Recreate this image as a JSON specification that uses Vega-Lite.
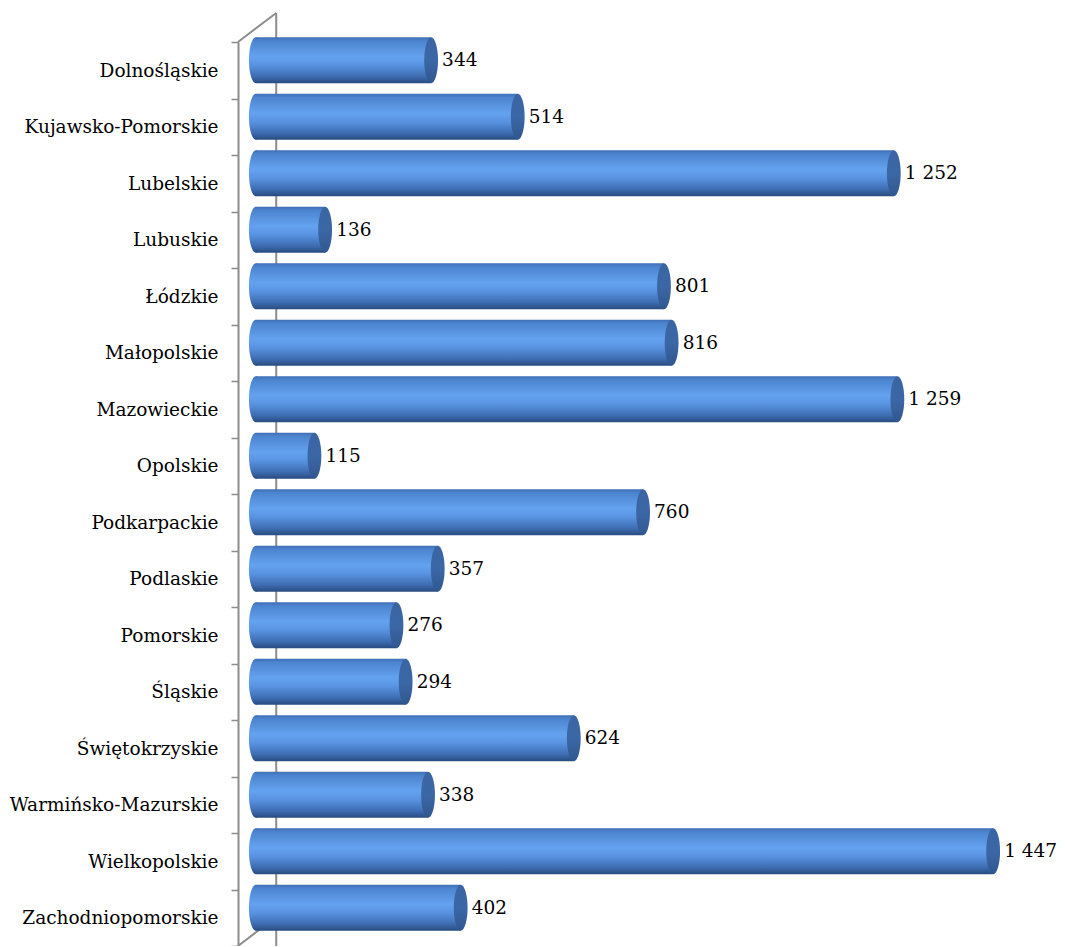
{
  "$schema": "https://vega.github.io/schema/vega-lite/v6.json",
  "width": 827,
  "height": 904,
  "autosize": "none",
  "padding": {"left": 238, "top": 42, "right": 0, "bottom": 0},
  "background": "white",
  "config": {
    "view": {"stroke": null},
    "locale": {"number": {"decimal": ",", "thousands": " ", "grouping": [3], "currency": ["", " zł"]}}
  },
  "data": {
    "values": [
      {"region": "Dolnośląskie", "value": 344},
      {"region": "Kujawsko-Pomorskie", "value": 514},
      {"region": "Lubelskie", "value": 1252},
      {"region": "Lubuskie", "value": 136},
      {"region": "Łódzkie", "value": 801},
      {"region": "Małopolskie", "value": 816},
      {"region": "Mazowieckie", "value": 1259},
      {"region": "Opolskie", "value": 115},
      {"region": "Podkarpackie", "value": 760},
      {"region": "Podlaskie", "value": 357},
      {"region": "Pomorskie", "value": 276},
      {"region": "Śląskie", "value": 294},
      {"region": "Świętokrzyskie", "value": 624},
      {"region": "Warmińsko-Mazurskie", "value": 338},
      {"region": "Wielkopolskie", "value": 1447},
      {"region": "Zachodniopomorskie", "value": 402}
    ]
  },
  "resolve": {"scale": {"x": "shared", "y": "shared"}},
  "layer": [
    {
      "data": {"values": [{}]},
      "mark": {"type": "rule", "color": "#8c8c8c", "strokeWidth": 2, "yOffset": -29, "y2Offset": -29},
      "encoding": {
        "x": {"datum": 40, "type": "quantitative", "scale": {"domain": [-35, 1588], "nice": false, "zero": false}, "axis": null}
      }
    },
    {
      "data": {"values": [{}]},
      "mark": {"type": "rule", "color": "#8c8c8c", "strokeWidth": 2, "y2Offset": -29},
      "encoding": {
        "x": {"datum": -35, "type": "quantitative"},
        "x2": {"datum": 40},
        "y": {"datum": "Dolnośląskie", "type": "nominal", "bandPosition": 0},
        "y2": {"datum": "Dolnośląskie", "bandPosition": 0}
      }
    },
    {
      "data": {"values": [{}]},
      "mark": {"type": "rule", "color": "#8c8c8c", "strokeWidth": 2, "y2Offset": -29},
      "encoding": {
        "x": {"datum": -35, "type": "quantitative"},
        "x2": {"datum": 40},
        "y": {"datum": "Zachodniopomorskie", "type": "nominal", "bandPosition": 1},
        "y2": {"datum": "Zachodniopomorskie", "bandPosition": 1}
      }
    },
    {
      "mark": {
        "type": "point", "filled": true, "opacity": 1, "yOffset": -10, "size": 2116,
        "shape": "M 0 -1 A 0.3 1 0 0 0 0 1 A 0.3 1 0 0 0 0 -1 Z",
        "fill": {"gradient": "linear", "x1": 0, "y1": 0, "x2": 0, "y2": 1,
          "stops": [
            {"offset": 0, "color": "#3f6fb6"},
            {"offset": 0.08, "color": "#4c84cf"},
            {"offset": 0.42, "color": "#64a2ef"},
            {"offset": 0.6, "color": "#5994e2"},
            {"offset": 0.85, "color": "#3e6db2"},
            {"offset": 1, "color": "#284b80"}
          ]},
        "strokeWidth": 0
      },
      "encoding": {
        "x": {"datum": 0, "type": "quantitative"},
        "y": {"field": "region", "type": "nominal", "sort": null,
          "scale": {"paddingInner": 0, "paddingOuter": 0, "domain": ["Dolnośląskie", "Kujawsko-Pomorskie", "Lubelskie", "Lubuskie", "Łódzkie", "Małopolskie", "Mazowieckie", "Opolskie", "Podkarpackie", "Podlaskie", "Pomorskie", "Śląskie", "Świętokrzyskie", "Warmińsko-Mazurskie", "Wielkopolskie", "Zachodniopomorskie"]},
          "axis": {
            "title": null, "domain": true, "domainColor": "#8c8c8c", "domainWidth": 2,
            "ticks": true, "tickBand": "extent", "tickColor": "#8c8c8c", "tickWidth": 1.5, "tickSize": 7,
            "labelFont": "DejaVu Serif", "labelFontSize": 18.5, "labelColor": "#000000",
            "labelPadding": 13, "labelLimit": 400
          }
        }
      }
    },
    {
      "mark": {
        "type": "bar", "size": 46, "yOffset": -10,
        "fill": {"gradient": "linear", "x1": 0, "y1": 0, "x2": 0, "y2": 1,
          "stops": [
            {"offset": 0, "color": "#3f6fb6"},
            {"offset": 0.08, "color": "#4c84cf"},
            {"offset": 0.42, "color": "#64a2ef"},
            {"offset": 0.6, "color": "#5994e2"},
            {"offset": 0.85, "color": "#3e6db2"},
            {"offset": 1, "color": "#284b80"}
          ]}
      },
      "encoding": {
        "x": {"field": "value", "type": "quantitative"},
        "x2": {"datum": 0},
        "y": {"field": "region", "type": "nominal", "sort": null}
      }
    },
    {
      "mark": {
        "type": "point", "filled": true, "opacity": 1, "yOffset": -10, "size": 2116,
        "shape": "M 0 -1 A 0.3 1 0 0 0 0 1 A 0.3 1 0 0 0 0 -1 Z",
        "fill": {"gradient": "linear", "x1": 0, "y1": 0, "x2": 0, "y2": 1,
          "stops": [
            {"offset": 0, "color": "#3a64a2"},
            {"offset": 0.5, "color": "#3c67a6"},
            {"offset": 1, "color": "#30578f"}
          ]},
        "strokeWidth": 0
      },
      "encoding": {
        "x": {"field": "value", "type": "quantitative"},
        "y": {"field": "region", "type": "nominal", "sort": null}
      }
    },
    {
      "mark": {"type": "text", "align": "left", "baseline": "middle", "dx": 11, "yOffset": -10,
        "font": "DejaVu Serif", "fontSize": 18.5, "color": "#000000"},
      "encoding": {
        "x": {"field": "value", "type": "quantitative"},
        "y": {"field": "region", "type": "nominal", "sort": null},
        "text": {"field": "value", "type": "quantitative", "format": ",d"}
      }
    }
  ]
}
